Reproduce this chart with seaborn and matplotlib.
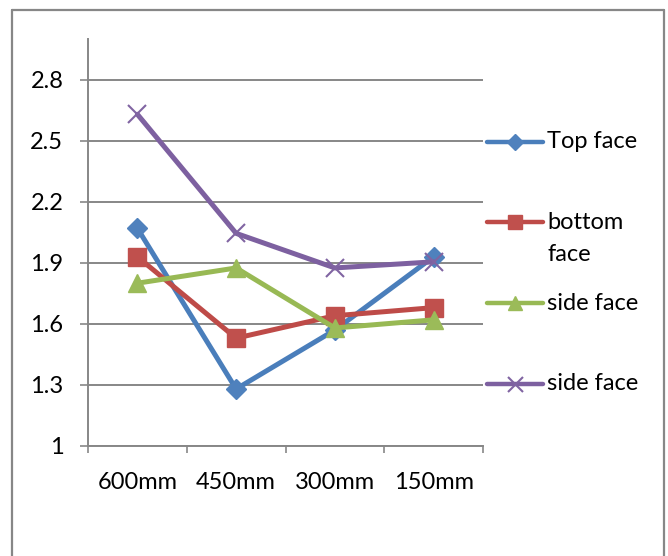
import matplotlib
matplotlib.use("Agg")
import matplotlib.pyplot as plt
from matplotlib.lines import Line2D
import pandas as pd
import seaborn as sns

# Measured values per distance for each face
distances = ["600mm", "450mm", "300mm", "150mm"]
top_face = [2.07, 1.28, 1.57, 1.93]
bottom_face = [1.93, 1.53, 1.64, 1.68]
side_face_a = [1.80, 1.875, 1.58, 1.62]
side_face_b = [2.63, 2.045, 1.875, 1.905]
series_labels = ["Top face", "bottom\nface", "side face", "side face"]
y_ticks = [1.0, 1.3, 1.6, 1.9, 2.2, 2.5, 2.8]
y_tick_labels = ["1", "1.3", "1.6", "1.9", "2.2", "2.5", "2.8"]

sns.set_style("white")
plt.rcParams["font.family"] = ["Lato", "DejaVu Sans"]

W, H = 668, 556
DPI = 100
GRAY = "#878787"
FS = 17

fig = plt.figure(figsize=(W / DPI, H / DPI), dpi=DPI)
fig.patch.set_facecolor("white")


def fx(px):
    return px / W


def fy(py):
    return 1 - py / H


ax = fig.add_axes([fx(88), fy(446), fx(483) - fx(88), fy(39) - fy(446)])

styles = [
    dict(line="#4A7EBB", face="#4F81BD", marker="D", ms=10.0, mew=1.0),
    dict(line="#BE4B48", face="#C0504D", marker="s", ms=12.5, mew=1.0),
    dict(line="#98B954", face="#9BBB59", marker="^", ms=13.0, mew=1.0),
    dict(line="#7D60A0", face="#8064A2", marker="x", ms=13.5, mew=1.5),
]
series_values = [top_face, bottom_face, side_face_a, side_face_b]

frames = []
for i, vals in enumerate(series_values):
    frames.append(pd.DataFrame({"distance": distances, "value": vals, "series": i}))
data = pd.concat(frames, ignore_index=True)

for i, st in enumerate(styles):
    sub = data[data["series"] == i]
    sns.lineplot(
        data=sub, x="distance", y="value", ax=ax, sort=False,
        color=st["line"], lw=3.6, marker=st["marker"], markersize=st["ms"],
        markerfacecolor=st["face"], markeredgecolor=st["face"],
        markeredgewidth=st["mew"], legend=False, zorder=3 + i,
    )

ax.set_xlim(-0.5, 3.5)
ax.set_ylim(1.0, 3.0)
ax.set_xlabel("")
ax.set_ylabel("")

ax.set_yticks(y_ticks)
ax.set_yticklabels(y_tick_labels, fontsize=FS, color="black")
ax.yaxis.grid(True, color=GRAY, lw=1.4)
ax.xaxis.grid(False)
ax.set_axisbelow(True)
ax.tick_params(axis="y", direction="out", length=5.8, width=1.2, color=GRAY,
               pad=12, left=True)

ax.set_xticks(range(len(distances)))
ax.set_xticklabels(distances, fontsize=FS, color="black")
ax.set_xticks([-0.5, 0.5, 1.5, 2.5, 3.5], minor=True)
ax.tick_params(axis="x", which="major", length=0, pad=19)
ax.tick_params(axis="x", which="minor", direction="out", length=5, width=1.2,
               color=GRAY, bottom=True)

for side in ["top", "right"]:
    ax.spines[side].set_visible(False)
for side in ["left", "bottom"]:
    ax.spines[side].set_color(GRAY)
    ax.spines[side].set_linewidth(1.4)

# Legend entries at the right of the plot
legend_rows = [142, 222, 303, 384]
x0, x1, xm = 487, 543, 515
for label, st, yrow in zip(series_labels, styles, legend_rows):
    fig.add_artist(Line2D([fx(x0), fx(x1)], [fy(yrow), fy(yrow)],
                          transform=fig.transFigure, color=st["line"], lw=3.2,
                          solid_capstyle="round"))
    fig.add_artist(Line2D([fx(xm)], [fy(yrow)], transform=fig.transFigure,
                          marker=st["marker"], ms=st["ms"] * 0.8,
                          markerfacecolor=st["face"], markeredgecolor=st["face"],
                          markeredgewidth=st["mew"], lw=0))
    if "\n" in label:
        fig.text(fx(547), fy(yrow - 10), label, fontsize=FS, color="black",
                 ha="left", va="top", linespacing=1.62)
    else:
        fig.text(fx(547), fy(yrow), label, fontsize=FS, color="black",
                 ha="left", va="center")

# Chart frame
for xs, ys in [([12, 664], [10, 10]), ([12, 12], [10, 560]), ([664, 664], [10, 560])]:
    fig.add_artist(Line2D([fx(v) for v in xs], [fy(v) for v in ys],
                          transform=fig.transFigure, color=GRAY, lw=1.6))

fig.savefig("out.png", dpi=DPI, facecolor="white")
